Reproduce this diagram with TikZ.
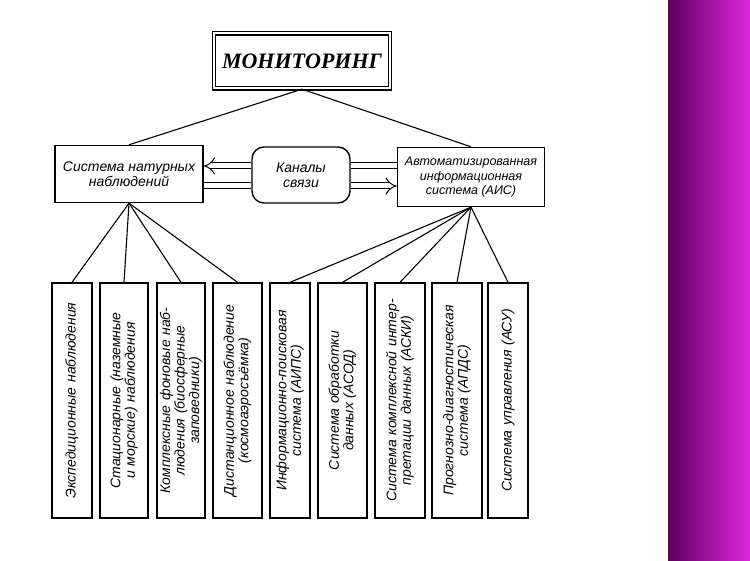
\documentclass[tikz,border=0pt]{standalone}
\usepackage{fontspec}
\setmainfont{Liberation Sans}
\newfontfamily\serifit{Liberation Serif}
\usetikzlibrary{arrows.meta,arrows}
\begin{document}
\begin{tikzpicture}[x=1pt,y=-1pt,
  box/.style={draw,line width=1.4pt,rectangle,inner sep=0pt},
  lbl/.style={font=\fontsize{14}{15}\selectfont\itshape,align=center},
  vt/.style={font=\fontsize{14}{14.5}\selectfont\itshape,align=center,rotate=90,text width=#1,inner sep=0pt},
  ln/.style={line width=1.1pt},
  dbl/.style={double,double distance=5pt,line width=1pt}]
\useasboundingbox (0,0) rectangle (750,561);
\fill[white] (0,0) rectangle (750,561);
\shade[left color=violet!60!black!90!magenta, right color=magenta!70!violet!85!white] (668,0) rectangle (750,561);
% top
\node[box,double,double distance=2pt,minimum width=176pt,minimum height=55pt] (mon) at (302,61)
  {\serifit\fontsize{22}{24}\selectfont\bfseries\itshape МОНИТОРИНГ};
\node[box,minimum width=148pt,minimum height=57pt,lbl] (sn) at (129,174) {Система натурных\\наблюдений};
\node[draw,line width=1.4pt,rounded corners=12pt,minimum width=98pt,minimum height=56pt,lbl] (ch) at (301,175) {Каналы\\связи};
\node[box,minimum width=147pt,minimum height=59pt,lbl,inner sep=0pt,font=\fontsize{12.5}{14.5}\selectfont\itshape] (ais) at (471,177) {Автоматизированная\\информационная\\система (АИС)};
\draw[ln] (mon.south) -- (sn.north);
\draw[ln] (mon.south) -- (ais.north);
\draw[dbl,-{Implies}] (ch.west |- 0,166) -- (sn.east |- 0,166);
\draw[dbl] (ais.west |- 0,166) -- (ch.east |- 0,166);
\draw[dbl] (sn.east |- 0,186) -- (ch.west |- 0,186);
\draw[dbl,-{Implies}] (ch.east |- 0,186) -- (ais.west |- 0,186);
% bottom boxes
\foreach \n/\xa/\xb/\t in {
 b1/52/92/{Экспедиционные наблюдения},
 b2/100/148/{Стационарные (наземные\\и морские) наблюдения},
 b3/157/205/{Комплексные фоновые наб-\\людения (биосферные\\заповедники)},
 b4/213/262/{Дистанционное наблюдение\\(космоаэросъёмка)},
 b5/270/310/{Информационно-поисковая\\система (АИПС)},
 b6/318/367/{Система обработки\\данных (АСОД)},
 b7/375/425/{Система комплексной интер-\\претации данных (АСКИ)},
 b8/432/482/{Прогнозно-диагностическая\\система (АПДС)},
 b9/488/528/{Система управления (АСУ)}}{
 \node[box,minimum width={\xb-\xa},minimum height=235pt] (\n) at ({(\xa+\xb)/2},400.5) {};
 \node[vt=228pt] (\n t) at (\n) {\t};
}
\foreach \n in {b1,b2,b3,b4} \draw[ln] (sn.south) -- (\n.north);
\foreach \n in {b5,b6,b7,b8,b9} \draw[ln] (ais.south) -- (\n.north);
\end{tikzpicture}
\end{document}
